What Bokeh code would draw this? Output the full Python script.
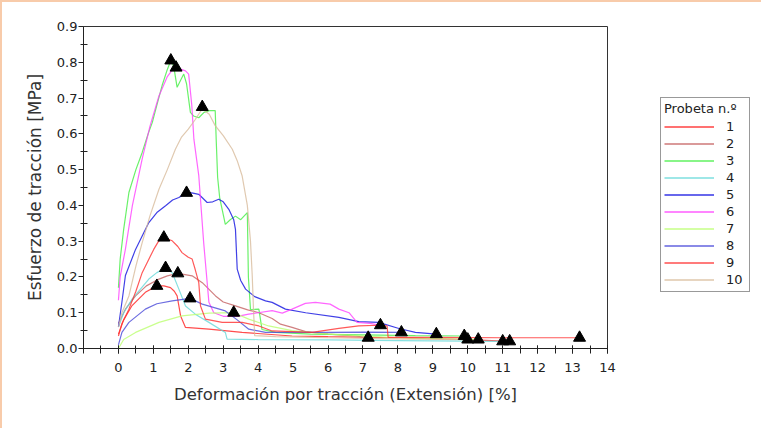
from bokeh.plotting import figure
from bokeh.layouts import row
from bokeh.models import Range1d, FixedTicker, Legend, LegendItem, CustomJSTickFormatter
from bokeh.embed import file_html
from bokeh.resources import INLINE

# ---- data ----
labels = ["1", "2", "3", "4", "5", "6", "7", "8", "9", "10"]
colors = ["#ff2020", "#c46060", "#44ee44", "#66d8d8", "#1010e0",
          "#ff40ff", "#bbff70", "#4848d8", "#ff3030", "#d8bc9c"]

x1 = [0, 0.15, 0.39, 0.77, 1.1, 1.3, 1.49, 1.6, 1.68, 1.78, 1.92, 2.59, 3.54, 4.97, 6, 8, 10, 11.2]
y1 = [0.04, 0.08, 0.12, 0.157, 0.175, 0.175, 0.17, 0.16, 0.147, 0.091, 0.059, 0.054, 0.045, 0.035, 0.033, 0.03, 0.025, 0.02]

x2 = [0, 0.2, 0.49, 0.8, 1.16, 1.4, 1.7, 2.11, 2.4, 2.78, 3.0, 3.35, 3.7, 4.02, 4.4, 4.64, 4.97, 5.36, 6, 6.8, 7.15]
y2 = [0.07, 0.11, 0.147, 0.175, 0.194, 0.203, 0.21, 0.203, 0.184, 0.147, 0.13, 0.119, 0.108, 0.1, 0.084, 0.068, 0.059, 0.047, 0.04, 0.035, 0.03]

x3 = [0, 0.05, 0.15, 0.3, 0.5, 0.68, 0.85, 0.97, 1.1, 1.25, 1.4, 1.5, 1.58, 1.68, 1.78, 1.87, 1.95, 2.06, 2.15,
      2.3, 2.45, 2.6, 2.77, 2.8, 2.84, 2.9, 3.06, 3.2, 3.35, 3.5, 3.69, 3.72, 3.78, 4.02, 4.11, 4.5, 5.5, 7, 8.5, 9.9]
y3 = [0.17, 0.25, 0.333, 0.436, 0.5, 0.548, 0.6, 0.632, 0.68, 0.735, 0.78, 0.805, 0.79, 0.73, 0.75, 0.767, 0.74, 0.66, 0.65,
      0.645, 0.66, 0.665, 0.665, 0.58, 0.478, 0.42, 0.347, 0.36, 0.37, 0.36, 0.38, 0.2, 0.109, 0.11, 0.053, 0.045, 0.04, 0.038, 0.036, 0.035]

x4 = [0, 0.15, 0.39, 0.87, 1.1, 1.35, 1.54, 1.73, 1.92, 2.2, 2.59, 3.06, 3.11, 4, 6, 8, 11.0]
y4 = [0.06, 0.1, 0.138, 0.194, 0.212, 0.225, 0.212, 0.166, 0.119, 0.096, 0.073, 0.045, 0.026, 0.025, 0.024, 0.022, 0.02]

x5 = [0, 0.1, 0.2, 0.49, 0.87, 1.1, 1.35, 1.55, 1.73, 1.95, 2.1, 2.3, 2.54, 2.7, 2.87, 3.0, 3.16, 3.3, 3.35, 3.4,
      3.5, 3.64, 3.9, 4.21, 4.4, 4.78, 5.36, 6.31, 6.88, 7.45, 8.03, 8.5, 9.1]
y5 = [0.06, 0.13, 0.204, 0.277, 0.352, 0.38, 0.399, 0.415, 0.422, 0.435, 0.435, 0.431, 0.408, 0.41, 0.417, 0.41, 0.389, 0.36, 0.333, 0.222,
      0.19, 0.166, 0.145, 0.133, 0.129, 0.11, 0.1, 0.087, 0.075, 0.073, 0.056, 0.045, 0.04]

x6 = [0, 0.05, 0.2, 0.4, 0.68, 0.9, 1.16, 1.4, 1.59, 1.65, 1.8, 1.92, 2.01, 2.1, 2.16, 2.3, 2.44, 2.59, 2.73, 3.0,
      3.4, 3.73, 4.0, 4.4, 4.69, 4.97, 5.35, 5.64, 6.06, 6.31, 6.6, 6.83, 7.2, 7.5]
y6 = [0.135, 0.2, 0.278, 0.4, 0.53, 0.62, 0.706, 0.76, 0.785, 0.785, 0.78, 0.776, 0.767, 0.68, 0.585, 0.483, 0.296, 0.129, 0.1, 0.09,
      0.09, 0.096, 0.1, 0.106, 0.099, 0.11, 0.126, 0.129, 0.124, 0.11, 0.1, 0.073, 0.07, 0.065]

x7 = [0, 0.15, 0.49, 1.16, 1.82, 2.59, 3.3, 3.73, 4.3, 4.97, 6, 8, 10.3]
y7 = [0.0, 0.025, 0.045, 0.073, 0.091, 0.099, 0.1, 0.082, 0.063, 0.05, 0.04, 0.03, 0.025]

x8 = [0, 0.1, 0.3, 0.77, 1.1, 1.54, 2.05, 2.4, 3.06, 3.4, 3.73, 4.21, 4.97, 6, 7, 8.1]
y8 = [0.01, 0.045, 0.073, 0.11, 0.125, 0.133, 0.14, 0.124, 0.105, 0.08, 0.054, 0.045, 0.045, 0.045, 0.046, 0.045]

x9 = [0, 0.1, 0.3, 0.5, 0.68, 1.01, 1.15, 1.3, 1.54, 1.7, 1.82, 2.0, 2.11, 2.2, 2.3, 2.35, 2.49, 2.97, 3.54, 4.02,
      4.4, 5.54, 6.31, 6.88, 7.45, 7.69, 7.72, 9, 11, 13.2]
y9 = [0.035, 0.07, 0.11, 0.16, 0.212, 0.277, 0.3, 0.31, 0.301, 0.285, 0.268, 0.255, 0.25, 0.22, 0.184, 0.119, 0.082, 0.073, 0.073, 0.063,
      0.049, 0.045, 0.056, 0.063, 0.065, 0.063, 0.031, 0.031, 0.03, 0.03]

x10 = [0, 0.1, 0.3, 0.5, 0.68, 0.9, 1.16, 1.4, 1.63, 1.8, 2.0, 2.2, 2.4, 2.6, 2.77, 3.0, 3.26, 3.4, 3.54, 3.69,
       3.78, 3.83, 3.87, 3.9, 4.5, 6, 8, 10.0]
y10 = [0.06, 0.1, 0.147, 0.23, 0.296, 0.37, 0.445, 0.5, 0.557, 0.59, 0.613, 0.64, 0.67, 0.655, 0.623, 0.595, 0.557, 0.525, 0.483, 0.4,
       0.3, 0.204, 0.1, 0.036, 0.033, 0.03, 0.027, 0.025]

# maximum-stress markers and break markers
peak_x = [1.1, 1.7, 1.5, 1.35, 1.95, 1.65, 3.3, 2.05, 1.3, 2.4]
peak_y = [0.175, 0.21, 0.805, 0.225, 0.435, 0.785, 0.1, 0.14, 0.31, 0.675]
break_x = [11.2, 7.15, 9.9, 11.0, 9.1, 7.5, 10.3, 8.1, 13.2, 10.0]
break_y = [0.02, 0.03, 0.035, 0.02, 0.04, 0.065, 0.025, 0.045, 0.03, 0.025]

x_ticks = list(range(0, 15))
x_minor = [v * 0.5 for v in range(-2, 29)]
y_ticks = [0.0, 0.1, 0.2, 0.3, 0.4, 0.5, 0.6, 0.7, 0.8, 0.9]
y_minor = [0.05, 0.15, 0.25, 0.35, 0.45, 0.55, 0.65, 0.75, 0.85]

xs = [x1, x2, x3, x4, x5, x6, x7, x8, x9, x10]
ys = [y1, y2, y3, y4, y5, y6, y7, y8, y9, y10]

FONT = "DejaVu Sans"

# ---- main chart ----
p = figure(width=625, height=426, output_backend="svg", toolbar_location=None,
           x_range=Range1d(-1, 14), y_range=Range1d(0, 0.9),
           min_border_left=81, min_border_top=24, min_border_right=20, min_border_bottom=80)
p.xgrid.visible = False
p.ygrid.visible = False
p.outline_line_color = "#333333"
p.outline_line_width = 1

for i in range(10):
    p.line(xs[i], ys[i], line_color=colors[i], line_width=1.2, line_alpha=0.8)

p.scatter(peak_x, peak_y, marker="triangle", size=12, color="black")
p.scatter(break_x, break_y, marker="triangle", size=12, color="black")

xa = p.xaxis[0]
xa.ticker = FixedTicker(ticks=x_ticks, minor_ticks=x_minor)
xa.major_tick_in = 3
xa.major_tick_out = 5
xa.minor_tick_in = 3
xa.minor_tick_out = 5
xa.major_label_standoff = 9
xa.axis_label = "Deformación por tracción (Extensión) [%]"
xa.axis_label_standoff = 10

ya = p.yaxis[0]
ya.ticker = FixedTicker(ticks=y_ticks, minor_ticks=y_minor)
ya.major_tick_in = 0
ya.major_tick_out = 5
ya.minor_tick_in = 4
ya.minor_tick_out = 3
ya.major_label_standoff = 1
ya.formatter = CustomJSTickFormatter(code="return tick.toFixed(1);")
ya.axis_label = "Esfuerzo de tracción [MPa]"
ya.axis_label_standoff = 9

for ax in (xa, ya):
    ax.axis_line_color = "#222222"
    ax.major_tick_line_color = "#222222"
    ax.minor_tick_line_color = "#222222"
    ax.major_label_text_font = FONT
    ax.major_label_text_font_size = "13px"
    ax.major_label_text_color = "#222222"
    ax.axis_label_text_font = FONT
    ax.axis_label_text_font_style = "normal"
    ax.axis_label_text_color = "#333333"
xa.axis_label_text_font_size = "16.5px"
ya.axis_label_text_font_size = "17px"

# ---- legend panel (its lines lie outside its own view; only the legend shows) ----
pl = figure(width=134, height=426, output_backend="svg", toolbar_location=None,
            x_range=Range1d(100, 101), y_range=Range1d(100, 101), x_axis_type=None, y_axis_type=None,
            min_border_left=0, min_border_right=0, min_border_top=0, min_border_bottom=0)
pl.xgrid.visible = False
pl.ygrid.visible = False
pl.outline_line_color = None

legend_renderers = [pl.line(xs[i], ys[i], line_color=colors[i], line_width=1.3, line_alpha=0.85) for i in range(10)]

legend = Legend(items=[LegendItem(label=labels[i], renderers=[legend_renderers[i]]) for i in range(10)],
                location=(33, 56), title="Probeta n.º")
legend.title_text_font = FONT
legend.title_text_font_size = "13px"
legend.title_text_font_style = "normal"
legend.title_text_color = "#222222"
legend.title_standoff = 2
legend.label_text_font = FONT
legend.label_text_font_size = "13px"
legend.label_text_color = "#222222"
legend.glyph_width = 50
legend.glyph_height = 17
legend.label_height = 17
legend.label_standoff = 12
legend.spacing = 0
legend.padding = 3
legend.margin = 0
legend.border_line_color = "#333333"
legend.border_line_width = 1
legend.background_fill_alpha = 1
pl.add_layout(legend, "center")

layout = row(p, pl, spacing=0)
layout.styles = {"border-left": "2px solid #f8cbaa", "border-top": "2px solid #f8cbaa"}

open("out.html", "w").write(file_html(layout, INLINE))
